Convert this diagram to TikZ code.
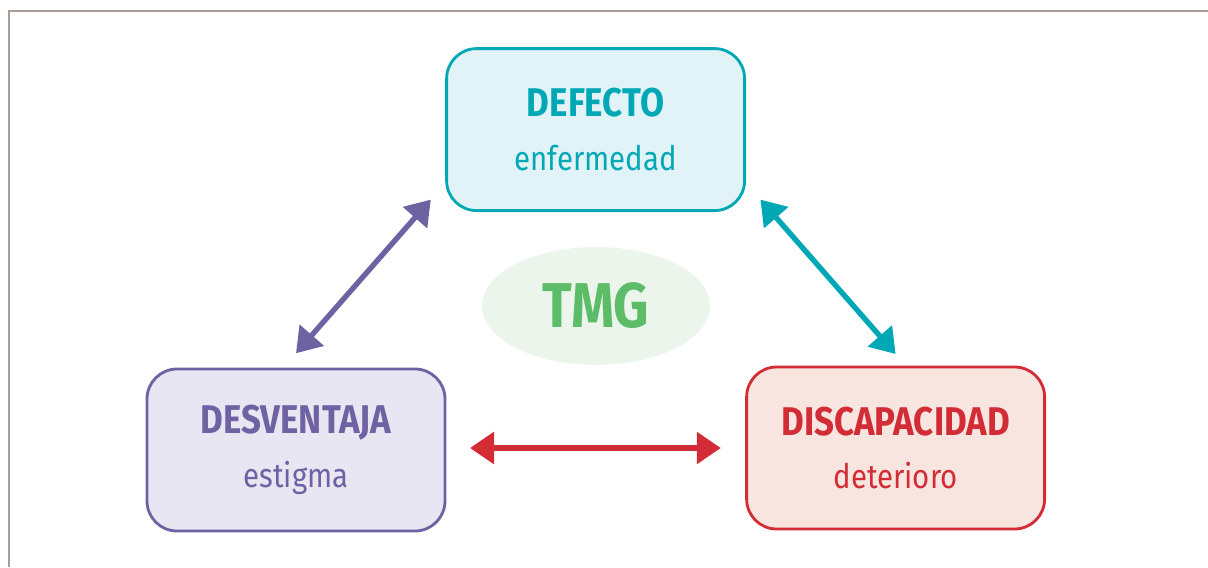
\documentclass[tikz,border=0pt]{standalone}
\usepackage{fontspec}
\setmainfont[FakeStretch=0.87]{Fira Sans}
\usepackage{xcolor}
\usetikzlibrary{arrows.meta,calc,shapes,positioning}
\definecolor{tealtmg}{HTML}{00A8B6}
\definecolor{tealfill}{HTML}{E1F3F6}
\definecolor{purpletmg}{HTML}{6F62A2}
\definecolor{purplefill}{HTML}{E8E6F2}
\definecolor{redtmg}{HTML}{D22C36}
\definecolor{redfill}{HTML}{F8E5DF}
\definecolor{greentmg}{HTML}{5DBC67}
\definecolor{greenfill}{HTML}{EBF5EC}
\definecolor{framegray}{HTML}{A89E95}
\tikzset{TMG box/.style={draw, line width=2pt, rounded corners=0.75cm, minimum width=7.45cm, minimum height=4.05cm, align=center, font=\fontsize{24}{38}\selectfont},
	TMG arrow/.style={line width=3.8pt, arrows = {Triangle[length=0.6cm, width=0.78cm]-Triangle[length=0.6cm, width=0.78cm]}}}
\newcommand{\boxtitle}[1]{{\fontsize{28.5}{38}\selectfont\bfseries #1}}

\begin{document}
\begin{tikzpicture}
	\useasboundingbox (0,0) rectangle (30.2,-14.175);
	\draw[framegray, line width=1.4pt] (0.225,-14.175) -- (0.225,-0.275) -- (30.2,-0.275);
	
	\node[TMG box, draw=tealtmg, fill=tealfill, text=tealtmg] (defecto) at (14.89,-3.24) {\boxtitle{DEFECTO}\\ enfermedad};
	\node[TMG box, draw=purpletmg, fill=purplefill, text=purpletmg] (desventaja) at (7.4,-11.25) {\boxtitle{DESVENTAJA}\\ estigma};
	\node[TMG box, draw=redtmg, fill=redfill, text=redtmg] (discapacidad) at (22.39,-11.2) {\boxtitle{DISCAPACIDAD}\\ deterioro};
	
	\node[ellipse, fill=greenfill, minimum width=5.7cm, minimum height=2.95cm, inner sep=0pt, text=greentmg, font=\fontsize{45}{45}\selectfont\bfseries] (tmg) at (14.9,-7.65) {TMG};
	
	\coordinate (a1) at ($(defecto.south west)+(-0.36,0.31)$);
	\coordinate (a2) at ($(desventaja.north)+(0,0.36)$);
	\coordinate (b1) at ($(defecto.south east)+(0.36,0.31)$);
	\coordinate (b2) at ($(discapacidad.north)+(0,0.29)$);
	\coordinate (c1) at ($(desventaja.east)+(0.59,0.05)$);
	\coordinate (c2) at ($(discapacidad.west)+(-0.61,0)$);
	
	\draw[TMG arrow, purpletmg] (a1) -- (a2);
	\draw[TMG arrow, tealtmg] (b1) -- (b2);
	\draw[TMG arrow, redtmg] (c1) -- (c2);
\end{tikzpicture}
\end{document}
